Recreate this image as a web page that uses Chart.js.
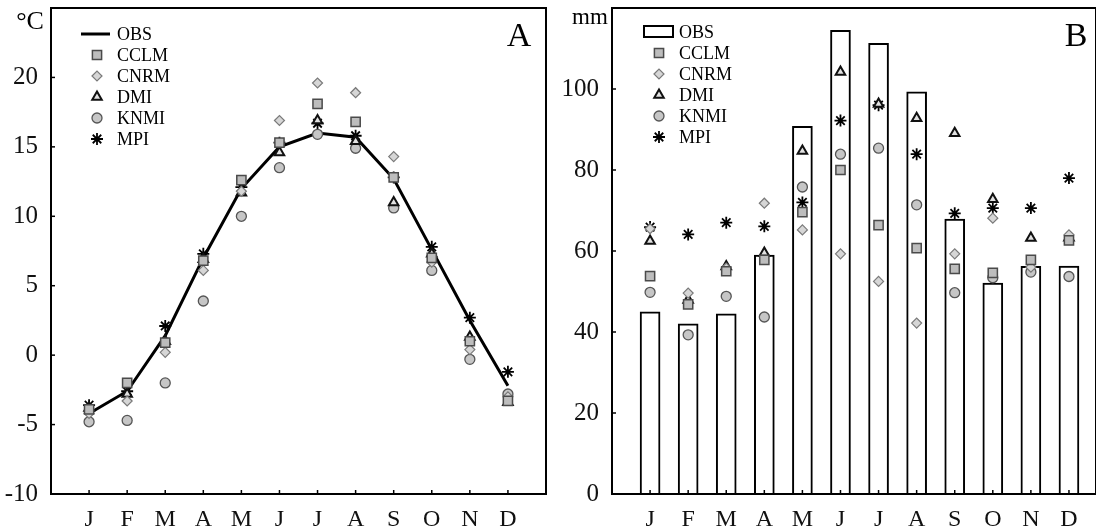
<!DOCTYPE html>
<html lang="en">
<head>
<meta charset="UTF-8">
<title>Monthly temperature and precipitation</title>
<script src="https://cdn.jsdelivr.net/npm/chart.js"></script>
<style>
  body { margin: 0; background: #fff; }
  .panel { position: absolute; top: 0; width: 548px; height: 530px; }
  #left { left: 0; }
  #right { left: 548px; }
</style>
</head>
<body>
<div class="panel" id="left"><canvas id="tempChart"></canvas></div>
<div class="panel" id="right"><canvas id="precChart"></canvas></div>

<script>
const months = ['J', 'F', 'M', 'A', 'M', 'J', 'J', 'A', 'S', 'O', 'N', 'D'];
const models = ['CCLM', 'CNRM', 'DMI', 'KNMI', 'MPI'];

// A: temperature, °C
const tempObs  = [-4.2, -2.6, 1.4, 7.0, 12.0, 15.0, 16.0, 15.7, 12.7, 7.6, 2.5, -2.2];
const tempCCLM = [-3.9, -2.0, 0.9, 6.8, 12.6, 15.3, 18.1, 16.8, 12.8, 7.0, 1.0, -3.3];
const tempCNRM = [-4.2, -3.3, 0.2, 6.1, 11.8, 16.9, 19.6, 18.9, 14.3, 6.7, 0.4, -3.0];
const tempDMI  = [-3.8, -2.8, 1.0, 6.9, 11.7, 14.6, 16.9, 15.4, 11.0, 7.3, 1.3, -3.4];
const tempKNMI = [-4.8, -4.7, -2.0, 3.9, 10.0, 13.5, 15.9, 14.9, 10.6, 6.1, -0.3, -2.8];
const tempMPI  = [-3.6, -2.6, 2.1, 7.3, 12.1, 15.3, 16.7, 15.8, 12.8, 7.8, 2.7, -1.2];

// B: precipitation, mm
const precObs  = [45.0, 42.0, 44.5, 59.0, 90.8, 114.5, 111.3, 99.3, 67.9, 52.1, 56.2, 56.3];
const precCCLM = [53.8, 46.8, 55.0, 57.8, 69.6, 80.0, 66.4, 60.7, 55.6, 54.6, 57.8, 62.6];
const precCNRM = [65.5, 49.6, 55.8, 71.8, 65.2, 59.3, 52.5, 42.2, 59.3, 68.1, 56.0, 64.0];
const precDMI  = [62.5, 47.9, 56.2, 59.5, 84.7, 104.2, 96.3, 92.8, 89.1, 72.8, 63.2, 63.3];
const precKNMI = [49.8, 39.3, 48.8, 43.7, 75.8, 83.9, 85.4, 71.4, 49.7, 53.4, 54.8, 53.7];
const precMPI  = [65.9, 64.1, 67.0, 66.1, 72.0, 92.2, 96.0, 83.9, 69.3, 70.6, 70.6, 78.0];

const serif = 'Liberation Serif';

const markers = {
  CCLM: { pointStyle: 'rect',     pointRadius: 6.5, pointBackgroundColor: '#bdbdbd', pointBorderColor: '#4a4a4a', pointBorderWidth: 1.5 },
  CNRM: { pointStyle: 'rectRot',  pointRadius: 5,   pointBackgroundColor: '#d6d6d6', pointBorderColor: '#7a7a7a', pointBorderWidth: 1.2 },
  DMI:  { pointStyle: 'triangle', pointRadius: 5.5, pointBackgroundColor: '#e2e2e2', pointBorderColor: '#111',    pointBorderWidth: 2 },
  KNMI: { pointStyle: 'circle',   pointRadius: 5,   pointBackgroundColor: '#c6c6c6', pointBorderColor: '#555',    pointBorderWidth: 1.3 },
  MPI:  { pointStyle: 'star',     pointRadius: 6,   pointBackgroundColor: '#000',    pointBorderColor: '#000',    pointBorderWidth: 1.8 }
};

const toPoints = arr => arr.map((v, i) => ({ x: i + 1, y: v }));

function modelSets(values) {
  return models.map((m, k) => Object.assign({
    type: 'scatter',
    label: m,
    data: toPoints(values[k]),
    showLine: false,
    order: 0
  }, markers[m]));
}

// frame, inward ticks, panel letter, unit and in-plot legend
const decor = {
  id: 'decor',
  afterDraw(chart, args, opts) {
    const ctx = chart.ctx;
    const a = chart.chartArea;
    ctx.save();
    ctx.strokeStyle = '#000';
    ctx.lineWidth = 2;
    ctx.strokeRect(a.left, a.top, a.right - a.left, a.bottom - a.top);

    ctx.lineWidth = 1.5;
    const ys = chart.scales.y;
    ys.ticks.forEach(t => {
      if (t.value <= ys.min || t.value >= ys.max) return;
      const py = ys.getPixelForValue(t.value);
      ctx.beginPath(); ctx.moveTo(a.left, py); ctx.lineTo(a.left + 4, py); ctx.stroke();
    });
    const xs = chart.scales.x;
    months.forEach((m, i) => {
      const px = xs.getPixelForValue(i + 1);
      ctx.beginPath(); ctx.moveTo(px, a.bottom); ctx.lineTo(px, a.bottom - 4); ctx.stroke();
    });

    ctx.fillStyle = '#000';
    ctx.textBaseline = 'middle';
    ctx.textAlign = 'center';
    ctx.font = '34px "' + serif + '"';
    ctx.fillText(opts.letter, opts.letterX, 37);
    ctx.font = opts.unitSize + 'px "' + serif + '"';
    ctx.fillText(opts.unit, opts.unitX, opts.unitY);

    // legend
    ctx.font = '18px "' + serif + '"';
    ctx.textAlign = 'left';
    chart.data.datasets.forEach((ds, k) => {
      const y = opts.legendY + k * 21;
      ctx.fillStyle = '#000';
      ctx.fillText(ds.label, opts.textX, y + 1);
      if (ds.type === 'line') {
        ctx.lineWidth = 3;
        ctx.beginPath(); ctx.moveTo(opts.symX - 16, y); ctx.lineTo(opts.symX + 13, y); ctx.stroke();
      } else if (ds.type === 'bar') {
        ctx.lineWidth = 2;
        ctx.strokeRect(opts.symX - 15, y - 6, 29, 11);
      } else {
        ctx.fillStyle = ds.pointBackgroundColor;
        ctx.strokeStyle = ds.pointBorderColor;
        ctx.lineWidth = ds.pointBorderWidth;
        Chart.helpers.drawPoint(ctx, {
          pointStyle: ds.pointStyle, radius: ds.pointRadius, rotation: 0, borderWidth: ds.pointBorderWidth
        }, opts.symX, y);
        ctx.strokeStyle = '#000';
      }
    });
    ctx.restore();
  }
};

function axes(yMin, yMax, yStep, xMax, yWidth) {
  return {
    x: {
      type: 'linear', min: 0, max: xMax, offset: false,
      grid: { display: false }, border: { display: false },
      ticks: {
        stepSize: 1, autoSkip: false, includeBounds: false, maxRotation: 0, padding: 3, color: '#111',
        font: { family: serif, size: 24 },
        callback: v => (Number.isInteger(v) && v >= 1 && v <= 12) ? months[v - 1] : ''
      },
      afterFit(s) { s.height = 36; s.paddingLeft = 0; s.paddingRight = 0; }
    },
    y: {
      min: yMin, max: yMax,
      grid: { display: false }, border: { display: false },
      ticks: {
        stepSize: yStep, padding: 5, color: '#111',
        font: { family: serif, size: 25 },
        callback: v => v === yMax ? '' : v
      },
      afterFit(s) { s.width = yWidth; s.paddingTop = 0; s.paddingBottom = 0; }
    }
  };
}

const common = {
  responsive: true,
  maintainAspectRatio: false,
  animation: false,
  events: [],
  plugins: { legend: { display: false }, tooltip: { enabled: false } }
};

new Chart(document.getElementById('tempChart'), {
  type: 'scatter',
  data: {
    datasets: [{
      type: 'line', label: 'OBS', data: toPoints(tempObs), order: 1,
      borderColor: '#000', borderWidth: 3, pointRadius: 0, tension: 0, fill: false
    }].concat(modelSets([tempCCLM, tempCNRM, tempDMI, tempKNMI, tempMPI]))
  },
  options: Object.assign({}, common, {
    layout: { autoPadding: false, padding: { top: 8, right: 2, left: 0, bottom: 0 } },
    scales: axes(-10, 25, 5, 13, 51),
    plugins: Object.assign({}, common.plugins, {
      decor: { letter: 'A', letterX: 519, unit: '°C', unitX: 30, unitY: 22, unitSize: 26,
               legendY: 34, symX: 97, textX: 117 }
    })
  }),
  plugins: [decor]
});

new Chart(document.getElementById('precChart'), {
  type: 'bar',
  data: {
    datasets: [{
      type: 'bar', label: 'OBS', data: toPoints(precObs), order: 1,
      backgroundColor: '#fff', borderColor: '#000', borderWidth: 2, barThickness: 20
    }].concat(modelSets([precCCLM, precCNRM, precDMI, precKNMI, precMPI]))
  },
  options: Object.assign({}, common, {
    layout: { autoPadding: false, padding: { top: 8, right: 0, left: 0, bottom: 0 } },
    scales: axes(0, 120, 20, 12.71, 64),
    plugins: Object.assign({}, common.plugins, {
      decor: { letter: 'B', letterX: 528, unit: 'mm', unitX: 42, unitY: 18, unitSize: 23,
               legendY: 32, symX: 111, textX: 131 }
    })
  }),
  plugins: [decor]
});
</script>
</body>
</html>
